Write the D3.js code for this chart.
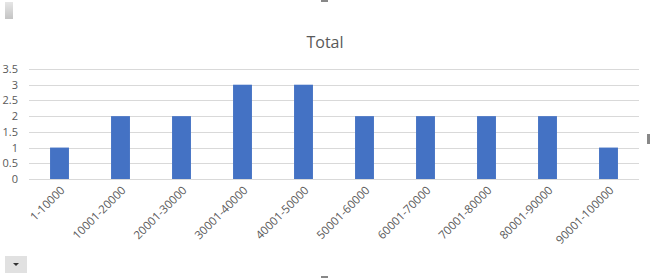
<!DOCTYPE html>
<html>
<head>
<meta charset="utf-8">
<script src="https://cdnjs.cloudflare.com/ajax/libs/d3/7.8.5/d3.min.js"></script>
<style>
  body { margin: 0; background: #fff; }
  svg { display: block; font-family: "Segoe UI", "Open Sans", Calibri, "Liberation Sans", sans-serif; }
</style>
</head>
<body>
<svg id="chart" width="650" height="278"></svg>
<script>
// DATA
var categories = ["1-10000", "10001-20000", "20001-30000", "30001-40000", "40001-50000",
                  "50001-60000", "60001-70000", "70001-80000", "80001-90000", "90001-100000"];
var totals = [1, 2, 2, 3, 3, 2, 2, 2, 2, 1];
var yTicks = [0, 0.5, 1, 1.5, 2, 2.5, 3, 3.5];
var chartTitle = "Total";

// CHART
var svg = d3.select("#chart");
var plotLeft = 29, plotRight = 639, plotTop = 69, plotBottom = 179;

var x = d3.scaleBand()
    .domain(categories)
    .range([plotLeft, plotRight])
    .paddingInner(0.69)
    .paddingOuter(0.345);

var y = d3.scaleLinear()
    .domain([0, 3.5])
    .range([plotBottom, plotTop]);

// gridlines
svg.append("g")
    .selectAll("line")
    .data(yTicks)
    .join("line")
    .attr("x1", plotLeft)
    .attr("x2", plotRight)
    .attr("y1", function(d) { return Math.round(y(d)) + 0.5; })
    .attr("y2", function(d) { return Math.round(y(d)) + 0.5; })
    .attr("stroke", "#d9d9d9")
    .attr("stroke-width", 1);

// y labels
svg.append("g")
    .selectAll("text")
    .data(yTicks)
    .join("text")
    .attr("x", 18)
    .attr("y", function(d) { return y(d) + 4; })
    .attr("text-anchor", "end")
    .attr("font-size", 11)
    .attr("fill", "#595959")
    .text(function(d) { return d; });

// bars
svg.append("g")
    .selectAll("rect")
    .data(totals)
    .join("rect")
    .attr("x", function(d, i) { return x(categories[i]); })
    .attr("y", function(d) { return y(d); })
    .attr("width", x.bandwidth())
    .attr("height", function(d) { return plotBottom - y(d); })
    .attr("fill", "#4472c4");

// x labels
svg.append("g")
    .selectAll("text")
    .data(categories)
    .join("text")
    .attr("transform", function(d) {
        return "translate(" + (x(d) + x.bandwidth() / 2 + 6) + "," + 191 + ") rotate(-45)";
    })
    .attr("text-anchor", "end")
    .attr("font-size", 11.5)
    .attr("fill", "#595959")
    .text(function(d) { return d; });

// title
svg.append("text")
    .attr("x", 325)
    .attr("y", 48)
    .attr("text-anchor", "middle")
    .attr("font-size", 16)
    .attr("fill", "#595959")
    .text(chartTitle);

// selection handles
var grad = svg.append("defs").append("linearGradient")
    .attr("id", "handle").attr("x1", 0).attr("y1", 0).attr("x2", 0).attr("y2", 1);
grad.append("stop").attr("offset", 0).attr("stop-color", "#e6e6e6");
grad.append("stop").attr("offset", 1).attr("stop-color", "#c4c4c4");
svg.append("rect").attr("x", 5).attr("y", 2).attr("width", 8).attr("height", 17).attr("fill", "url(#handle)");

svg.append("rect").attr("x", 5).attr("y", 256).attr("width", 22).attr("height", 17).attr("fill", "#e1e1e1");
svg.append("path").attr("d", "M13,263 L19,263 L16,266 Z").attr("fill", "#333");

svg.append("rect").attr("x", 321).attr("y", 0).attr("width", 7).attr("height", 2).attr("fill", "#888");
svg.append("rect").attr("x", 321).attr("y", 276).attr("width", 7).attr("height", 2).attr("fill", "#888");
svg.append("rect").attr("x", 647).attr("y", 134).attr("width", 3).attr("height", 10).attr("fill", "#888");
</script>
</body>
</html>
